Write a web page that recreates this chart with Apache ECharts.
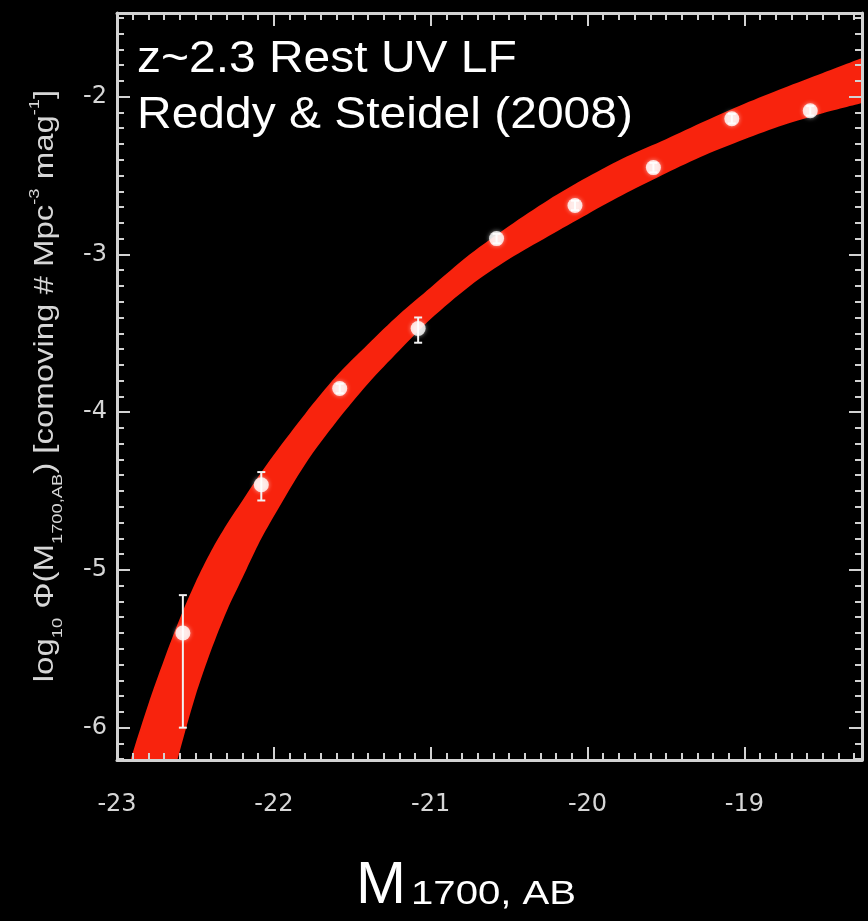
<!DOCTYPE html>
<html>
<head>
<meta charset="utf-8">
<script src="https://cdn.jsdelivr.net/npm/echarts@6/dist/echarts.min.js"></script>
<style>
  html, body { margin: 0; padding: 0; background: #000; }
  #chart { width: 868px; height: 921px; }
</style>
</head>
<body>
<div id="chart"></div>
<script>
// z~2.3 rest-frame UV luminosity function, Reddy & Steidel (2008)

// Binned data: absolute magnitude at 1700 A and log10 number density
const magBins    = [-22.58, -22.08, -21.58, -21.08, -20.58, -20.08, -19.58, -19.08, -18.58];
const logPhi     = [-5.40, -4.46, -3.85, -3.47, -2.90, -2.69, -2.45, -2.14, -2.09];
const logPhiLow  = [-6.00, -4.56, -3.88, -3.56, -2.93, -2.72, -2.48, -2.17, -2.12];
const logPhiHigh = [-5.16, -4.38, -3.82, -3.40, -2.87, -2.66, -2.42, -2.11, -2.06];

// 95% confidence region: upper and lower edges sampled along M
const bandMag   = [-23.0, -22.9, -22.8, -22.7, -22.6, -22.5, -22.4, -22.3, -22.2, -22.1, -22.0,
                   -21.8, -21.6, -21.4, -21.2, -21.0, -20.75, -20.5, -20.25, -20.0, -19.75,
                   -19.5, -19.25, -19.0, -18.75, -18.5, -18.25];
const bandUpper = [-6.48, -6.16, -5.85, -5.57, -5.31, -5.08, -4.88, -4.71, -4.56, -4.41, -4.27,
                   -4.01, -3.77, -3.57, -3.38, -3.21, -3.00, -2.82, -2.655, -2.51, -2.38,
                   -2.27, -2.155, -2.045, -1.945, -1.85, -1.755];
const bandLower = [-7.80, -7.33, -6.92, -6.52, -6.15, -5.80, -5.51, -5.26, -5.05, -4.84, -4.66,
                   -4.33, -4.06, -3.82, -3.61, -3.41, -3.20, -3.03, -2.885, -2.745, -2.61,
                   -2.485, -2.37, -2.27, -2.18, -2.105, -2.04];

// Labelled tick values
const xTickLabels = [-23, -22, -21, -20, -19];
const yTickLabels = [-6, -5, -4, -3, -2];

const AXIS_COLOR = '#d2d2d2';
const LABEL_COLOR = '#d6d6d6';
const BAND_COLOR = '#f8230d';
const BG_COLOR = '#000000';

function frameAxis(position, showLabels, labels, labelMargin) {
  return {
    type: 'value',
    position: position,
    z: 10,
    minInterval: 1,
    maxInterval: 1,
    axisLine: { show: true, onZero: false, lineStyle: { color: AXIS_COLOR, width: 3 } },
    axisTick: { show: true, inside: true, length: 13, lineStyle: { color: AXIS_COLOR, width: 2 } },
    minorTick: { show: true, splitNumber: 10, length: 7, lineStyle: { color: AXIS_COLOR, width: 2 } },
    splitLine: { show: false },
    minorSplitLine: { show: false },
    axisLabel: {
      show: showLabels,
      customValues: labels,
      color: LABEL_COLOR,
      fontFamily: 'DejaVu Sans',
      fontSize: 24,
      margin: labelMargin
    }
  };
}

const xBottom = Object.assign(frameAxis('bottom', true, xTickLabels, 33), { min: -23, max: -18.25 });
const xTop = Object.assign(frameAxis('top', false, xTickLabels, 0), { min: -23, max: -18.25 });
const yLeft = Object.assign(frameAxis('left', true, yTickLabels, 10), { min: -6.205, max: -1.47 });
const yRight = Object.assign(frameAxis('right', false, yTickLabels, 0), { min: -6.205, max: -1.47 });

// A smooth edge curve whose area is filled down to the bottom of the frame
function bandEdge(name, values, fill, z) {
  return {
    type: 'line',
    name: name,
    smooth: 0.3,
    symbol: 'none',
    silent: true,
    clip: true,
    z: z,
    lineStyle: { width: 0, opacity: 0 },
    areaStyle: { color: fill, opacity: 1, origin: 'start' },
    data: bandMag.map((m, i) => [m, values[i]])
  };
}

const chart = echarts.init(document.getElementById('chart'), null, { renderer: 'canvas' });

chart.setOption({
  backgroundColor: BG_COLOR,
  animation: false,
  grid: { left: 117, right: 6, top: 13, bottom: 161, containLabel: false },
  xAxis: [xBottom, xTop],
  yAxis: [yLeft, yRight],
  series: [
    // red fill below the upper edge, then background below the lower edge,
    // leaving the 95% confidence region between the two
    bandEdge('RS08 95% Confidence Region', bandUpper, BAND_COLOR, 1),
    bandEdge('band lower edge', bandLower, BG_COLOR, 2),
    {
      // error bars with small caps
      type: 'custom',
      name: 'RS08 Data errors',
      z: 4,
      silent: true,
      data: magBins.map((m, i) => [m, logPhiLow[i], logPhiHigh[i]]),
      renderItem: function (params, api) {
        const m = api.value(0);
        const lo = api.coord([m, api.value(1)]);
        const hi = api.coord([m, api.value(2)]);
        const w = 4;
        const st = { stroke: '#f2f2f2', lineWidth: 2 };
        return {
          type: 'group',
          children: [
            { type: 'line', shape: { x1: lo[0], y1: lo[1], x2: hi[0], y2: hi[1] }, style: st },
            { type: 'line', shape: { x1: lo[0] - w, y1: lo[1], x2: lo[0] + w, y2: lo[1] }, style: st },
            { type: 'line', shape: { x1: hi[0] - w, y1: hi[1], x2: hi[0] + w, y2: hi[1] }, style: st }
          ]
        };
      }
    },
    {
      type: 'scatter',
      name: 'RS08 Data',
      z: 5,
      symbol: 'circle',
      symbolSize: 15,
      itemStyle: { color: '#ffffff', shadowBlur: 4, shadowColor: 'rgba(255,255,255,0.7)' },
      data: magBins.map((m, i) => [m, logPhi[i]])
    }
  ],
  graphic: [
    // headline in the upper-left corner of the frame
    {
      type: 'text', left: 137, top: 38, z: 20, scaleX: 1.09,
      style: { text: 'z~2.3 Rest UV LF', fill: '#ffffff', font: '44px "Liberation Sans", Arial, sans-serif' }
    },
    {
      type: 'text', left: 137, top: 94, z: 20, scaleX: 1.09,
      style: { text: 'Reddy & Steidel (2008)', fill: '#ffffff', font: '44px "Liberation Sans", Arial, sans-serif' }
    },
    // y-axis title, reading upwards
    {
      type: 'text', x: 46, y: 386, rotation: Math.PI / 2, scaleX: 1.22, z: 20,
      style: {
        text: '{n|log}{sub|10}{n| Φ(M}{sub|1700,AB}{n|) [comoving # Mpc}{sup|-3}{n| mag}{sup|-1}{n|]}',
        align: 'center',
        verticalAlign: 'middle',
        fill: LABEL_COLOR,
        rich: {
          n: { fontSize: 27, lineHeight: 38, fill: LABEL_COLOR, fontFamily: 'Liberation Sans' },
          sub: { fontSize: 15, lineHeight: 38, verticalAlign: 'bottom', fill: LABEL_COLOR, fontFamily: 'Liberation Sans' },
          sup: { fontSize: 15, lineHeight: 38, verticalAlign: 'top', fill: LABEL_COLOR, fontFamily: 'Liberation Sans' }
        }
      }
    },
    // x-axis title: M with subscript 1700, AB
    {
      type: 'text', x: 356, y: 916, z: 20,
      style: { text: 'M', fill: '#ffffff', font: '60px "Liberation Sans", Arial, sans-serif', align: 'left', verticalAlign: 'bottom' }
    },
    {
      type: 'text', x: 411, y: 912, z: 20, scaleX: 1.18,
      style: { text: '1700, AB', fill: '#ffffff', font: '34px "Liberation Sans", Arial, sans-serif', align: 'left', verticalAlign: 'bottom' }
    },
    // legend
    {
      type: 'group', left: 462, top: 514, z: 20,
      children: [
        { type: 'line', shape: { x1: 31, y1: 0, x2: 31, y2: 33 }, style: { stroke: '#e8e8e8', lineWidth: 2 } },
        { type: 'line', shape: { x1: 28, y1: 0, x2: 34, y2: 0 }, style: { stroke: '#e8e8e8', lineWidth: 2 } },
        { type: 'line', shape: { x1: 28, y1: 33, x2: 34, y2: 33 }, style: { stroke: '#e8e8e8', lineWidth: 2 } },
        { type: 'circle', shape: { cx: 31, cy: 18, r: 7 }, style: { fill: '#ffffff' } },
        { type: 'rect', shape: { x: 0, y: 41, width: 55, height: 24 }, style: { fill: BAND_COLOR } },
        {
          type: 'text', x: 64, y: 18, scaleX: 1.19,
          style: { text: 'RS08 Data', fill: '#d8d8d8', font: '18px "Liberation Sans", Arial, sans-serif', verticalAlign: 'middle' }
        },
        {
          type: 'text', x: 64, y: 51, scaleX: 1.19,
          style: { text: 'RS08 95% Confidence Region', fill: '#d8d8d8', font: '18px "Liberation Sans", Arial, sans-serif', verticalAlign: 'middle' }
        }
      ]
    }
  ]
});
</script>
</body>
</html>
